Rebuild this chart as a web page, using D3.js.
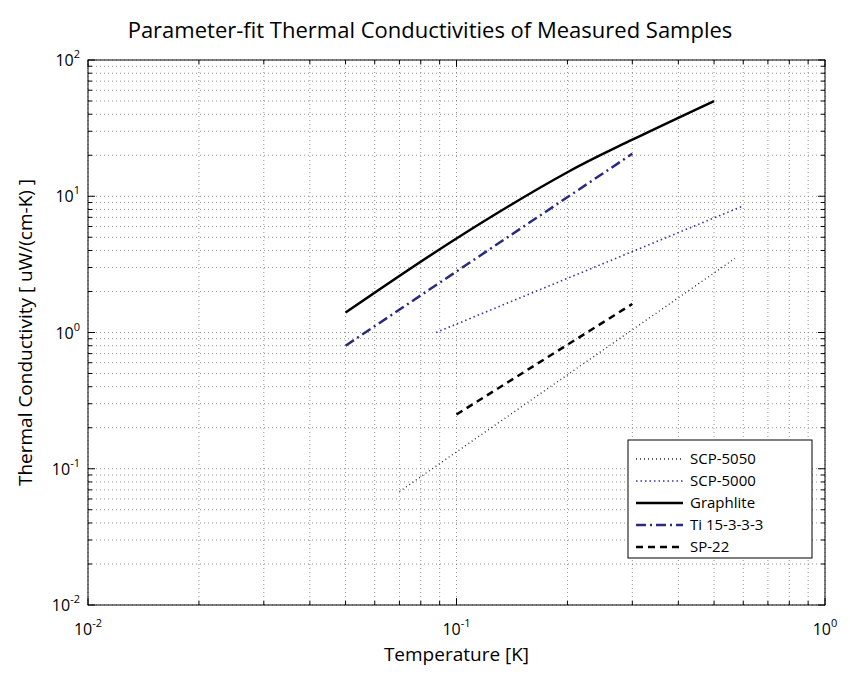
<!DOCTYPE html>
<html><head><meta charset="utf-8">
<script src="https://cdn.jsdelivr.net/npm/d3@7"></script>
<style>body{margin:0;background:#fff}text{font-family:"Open Sans",sans-serif}</style>
</head><body><div id="chart"></div>
<script>
// data
var scp5050 = [[0.07,0.068],[0.57,3.5]];
var scp5000 = [[0.088,1.0],[0.6,8.5]];
var graphlite = [[0.05,1.4],[0.1,4.9],[0.2,15],[0.3,26],[0.5,50]];
var ti = [[0.05,0.8],[0.3,20.5]];
var sp22 = [[0.1,0.25],[0.3,1.62]];
var xTicks = [-2,-1,0];
var yTicks = [-2,-1,0,1,2];

var w = 850, h = 678;
var m = {l:88, r:25, t:60, b:73};
var svg = d3.select("#chart").append("svg").attr("width", w).attr("height", h);

var x = d3.scaleLog().domain([0.01,1]).range([m.l, w-m.r]);
var y = d3.scaleLog().domain([0.01,100]).range([h-m.b, m.t]);

var minorX = [], minorY = [];
[-2,-1].forEach(function(e){ for (var k=1;k<10;k++) minorX.push(k*Math.pow(10,e)); });
minorX.push(1);
[-2,-1,0,1].forEach(function(e){ for (var k=1;k<10;k++) minorY.push(k*Math.pow(10,e)); });
minorY.push(100);

var grid = svg.append("g").attr("stroke","#777").attr("stroke-width",0.8).attr("stroke-dasharray","1,3");
grid.selectAll(".gx").data(minorX).enter().append("line")
  .attr("x1",function(d){return x(d);}).attr("x2",function(d){return x(d);})
  .attr("y1",m.t).attr("y2",h-m.b);
grid.selectAll(".gy").data(minorY).enter().append("line")
  .attr("y1",function(d){return y(d);}).attr("y2",function(d){return y(d);})
  .attr("x1",m.l).attr("x2",w-m.r);

// ticks pointing inward on every side
var tk = svg.append("g").attr("stroke","#000").attr("stroke-width",1);
minorX.forEach(function(d){
  var len = xTicks.indexOf(Math.round(Math.log10(d)*1000)/1000) >= 0 ? 7 : 4;
  tk.append("line").attr("x1",x(d)).attr("x2",x(d)).attr("y1",h-m.b).attr("y2",h-m.b-len);
  tk.append("line").attr("x1",x(d)).attr("x2",x(d)).attr("y1",m.t).attr("y2",m.t+len);
});
minorY.forEach(function(d){
  var len = yTicks.indexOf(Math.round(Math.log10(d)*1000)/1000) >= 0 ? 7 : 4;
  tk.append("line").attr("y1",y(d)).attr("y2",y(d)).attr("x1",m.l).attr("x2",m.l+len);
  tk.append("line").attr("y1",y(d)).attr("y2",y(d)).attr("x1",w-m.r).attr("x2",w-m.r-len);
});
svg.append("rect").attr("x",m.l).attr("y",m.t).attr("width",w-m.l-m.r).attr("height",h-m.t-m.b)
  .attr("fill","none").attr("stroke","#000");

xTicks.forEach(function(e){
  var t = svg.append("text").attr("x",x(Math.pow(10,e))).attr("y",h-m.b+30).attr("text-anchor","middle").attr("font-size",16);
  t.append("tspan").text("10");
  t.append("tspan").attr("dy",-8).attr("font-size",11).text(e);
});
yTicks.forEach(function(e){
  var t = svg.append("text").attr("x",m.l-8).attr("y",y(Math.pow(10,e))+6).attr("text-anchor","end").attr("font-size",16);
  t.append("tspan").text("10");
  t.append("tspan").attr("dy",-8).attr("font-size",11).text(e);
});

var line = d3.line().x(function(d){return x(d[0]);}).y(function(d){return y(d[1]);}).curve(d3.curveCatmullRom);
var series = [
  {name:"SCP-5050", data:scp5050, color:"#222244", width:1.3, dash:"1,3"},
  {name:"SCP-5000", data:scp5000, color:"#3333aa", width:1.6, dash:"1.5,3"},
  {name:"Graphlite", data:graphlite, color:"#000", width:2.5, dash:null},
  {name:"Ti 15-3-3-3", data:ti, color:"#2a2a80", width:2.5, dash:"10,4,2,4"},
  {name:"SP-22", data:sp22, color:"#000", width:2.5, dash:"7,5"}
];
series.forEach(function(s){
  svg.append("path").attr("d",line(s.data)).attr("fill","none").attr("stroke",s.color)
    .attr("stroke-width",s.width).attr("stroke-dasharray",s.dash);
});

var lg = svg.append("g").attr("transform","translate(628,440)");
lg.append("rect").attr("width",184).attr("height",118).attr("fill","#fff").attr("stroke","#000");
series.forEach(function(s,i){
  var yy = 19 + i*22;
  lg.append("line").attr("x1",8).attr("x2",55).attr("y1",yy).attr("y2",yy).attr("stroke",s.color)
    .attr("stroke-width",s.width).attr("stroke-dasharray",s.dash);
  lg.append("text").attr("x",62).attr("y",yy+5).attr("font-size",15).text(s.name);
});

svg.append("text").attr("x",430).attr("y",38).attr("text-anchor","middle").attr("font-size",22)
  .text("Parameter-fit Thermal Conductivities of Measured Samples");
svg.append("text").attr("x",(m.l+w-m.r)/2).attr("y",h-17).attr("text-anchor","middle").attr("font-size",19)
  .text("Temperature [K]");
svg.append("text").attr("transform","translate(32,"+((m.t+h-m.b)/2)+") rotate(-90)").attr("text-anchor","middle")
  .attr("font-size",19).text("Thermal Conductivity [ uW/(cm-K) ]");
</script></body></html>
